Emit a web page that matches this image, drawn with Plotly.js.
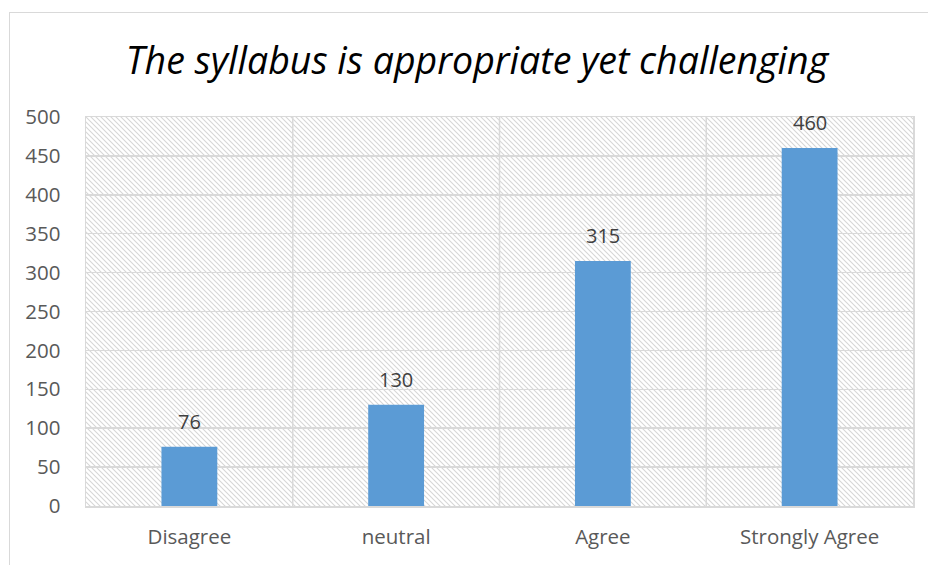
<!DOCTYPE html>
<html><head><meta charset="utf-8">
<script src="https://cdn.plot.ly/plotly-3.0.1.min.js"></script>
<style>
html,body{margin:0;padding:0;background:#fff;overflow:hidden;}
#frame{position:absolute;left:9px;top:12px;width:1000px;height:600px;border:1.5px solid #d9d9d9;box-sizing:border-box;}
#chart{position:absolute;left:0;top:0;width:928px;height:565px;}
</style>
</head><body>
<div id="frame"></div>
<div id="chart"></div>
<script>
const categories = ["Disagree", "neutral", "Agree", "Strongly Agree"];
const values = [76, 130, 315, 460];
const titleText = "The syllabus is appropriate yet challenging";

const hatch = "<svg xmlns='http://www.w3.org/2000/svg' width='827' height='389' preserveAspectRatio='none'>" +
  "<defs><pattern id='p' width='5' height='5' patternUnits='userSpaceOnUse'>" +
  "<path d='M-1,-1 L6,6 M-1,4 L1,6 M4,-1 L6,1' stroke='%23d6d6d6' stroke-width='1.1'/></pattern></defs>" +
  "<rect width='100%25' height='100%25' fill='url(%23p)'/></svg>";

const shapes = [0.5, 1.5, 2.5].map(v => ({
  type: 'line', xref: 'x', yref: 'paper', x0: v, x1: v, y0: 0, y1: 1,
  line: {color: '#d9d9d9', width: 1.5}, layer: 'below'
}));

const annotations = categories.map((c, i) => ({
  x: c, y: values[i], xref: 'x', yref: 'y', text: String(values[i]),
  showarrow: false, yanchor: 'bottom', yshift: 10,
  font: {family: 'Open Sans, sans-serif', size: 20, color: '#404040'}
}));

const data = [{
  type: 'bar', x: categories, y: values,
  marker: {color: '#5b9bd5'},
  hoverinfo: 'none'
}];

const layout = {
  width: 928, height: 565,
  margin: {l: 86, r: 15, t: 117, b: 59},
  paper_bgcolor: 'rgba(0,0,0,0)', plot_bgcolor: 'rgba(0,0,0,0)',
  bargap: 0.73,
  showlegend: false,
  title: {text: titleText, x: 0.514, xanchor: 'center', y: 0.893, yanchor: 'middle',
    font: {family: 'Open Sans, sans-serif', size: 37.5, color: '#000', style: 'italic', weight: 400}},
  xaxis: {
    type: 'category', showgrid: false, showline: true, mirror: true,
    linecolor: '#d9d9d9', linewidth: 1.5, ticks: '',
    tickfont: {family: 'Open Sans, sans-serif', size: 20.5, color: '#595959'},
    ticklabelstandoff: 12, fixedrange: true
  },
  yaxis: {
    range: [0, 500], dtick: 50, tick0: 0, showgrid: true, gridcolor: '#d9d9d9', gridwidth: 1.5,
    showline: true, mirror: true, linecolor: '#d9d9d9', linewidth: 1.5, ticks: '',
    zeroline: false,
    tickfont: {family: 'Open Sans, sans-serif', size: 20.5, color: '#595959'},
    ticklabelstandoff: 20, fixedrange: true
  },
  shapes: shapes,
  annotations: annotations,
  images: [{
    source: 'data:image/svg+xml;charset=utf-8,' + hatch,
    xref: 'paper', yref: 'paper', x: 0, y: 1, sizex: 1, sizey: 1,
    xanchor: 'left', yanchor: 'top', sizing: 'stretch', layer: 'below'
  }]
};

Plotly.newPlot('chart', data, layout, {displayModeBar: false, staticPlot: true});
</script>
</body></html>
